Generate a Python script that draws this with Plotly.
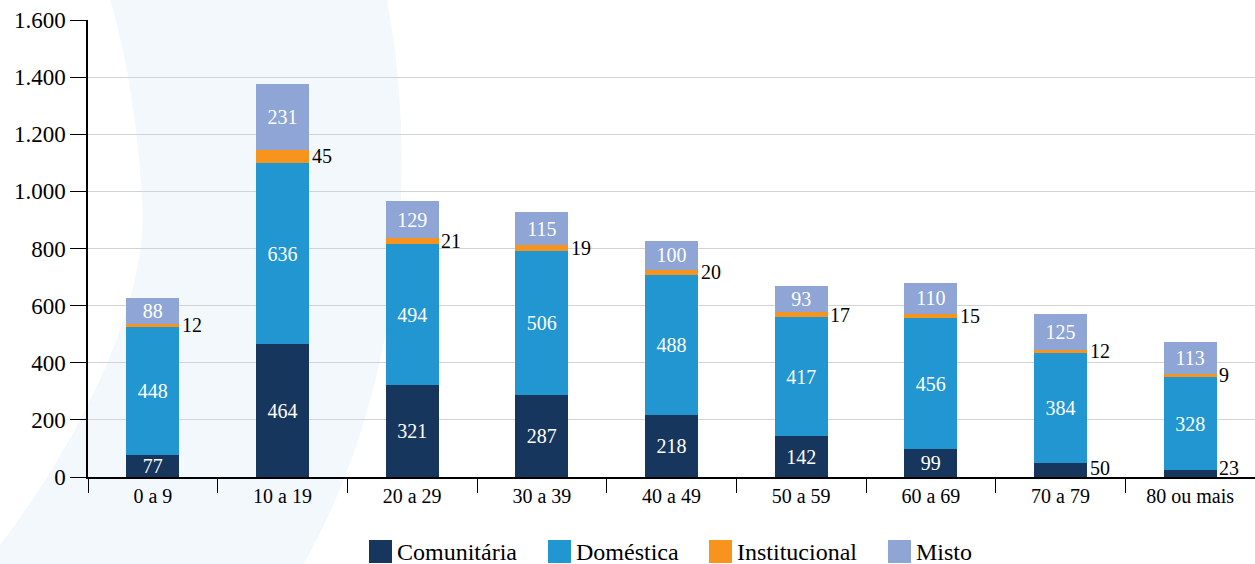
import plotly.graph_objects as go

categories = ["0 a 9", "10 a 19", "20 a 29", "30 a 39", "40 a 49", "50 a 59", "60 a 69", "70 a 79", "80 ou mais"]
comunitaria = [77, 464, 321, 287, 218, 142, 99, 50, 23]
domestica = [448, 636, 494, 506, 488, 417, 456, 384, 328]
institucional = [12, 45, 21, 19, 20, 17, 15, 12, 9]
misto = [88, 231, 129, 115, 100, 93, 110, 125, 113]
y_ticks = [0, 200, 400, 600, 800, 1000, 1200, 1400, 1600]

series_names = ["Comunitária", "Doméstica", "Institucional", "Misto"]
colors = ["#17365d", "#2196d0", "#f7941d", "#8ea5d6"]

FONT = "'Liberation Serif', 'Times New Roman', Tinos, 'DejaVu Serif', serif"
W, H = 1255, 564
L, R, T, B = 88, 0, 20, 87
PW, PH = W - L - R, H - T - B

def px(x):
    return (x - L) / PW

def py(y):
    return (H - B - y) / PH

fig = go.Figure()

def inside_text(vals, minv=60):
    return [str(v) if v >= minv else "" for v in vals]

for name, vals, col, show_inside in [
    (series_names[0], comunitaria, colors[0], True),
    (series_names[1], domestica, colors[1], True),
    (series_names[2], institucional, colors[2], False),
    (series_names[3], misto, colors[3], True),
]:
    fig.add_trace(go.Bar(
        x=categories, y=vals, name=name, marker=dict(color=col, line=dict(width=0)),
        text=inside_text(vals) if show_inside else None,
        textposition="inside" if show_inside else "none",
        insidetextanchor="middle", textangle=0, constraintext="none",
        textfont=dict(family=FONT, size=20, color="white"),
        width=0.41, showlegend=False, hoverinfo="skip",
    ))

annotations = []
for i, c in enumerate(categories):
    base = comunitaria[i] + domestica[i]
    annotations.append(dict(
        x=c, y=base + institucional[i] / 2, text=str(institucional[i]),
        xref="x", yref="y", xanchor="left", yanchor="middle", xshift=27,
        showarrow=False, font=dict(family=FONT, size=20, color="black"),
    ))
    if comunitaria[i] < 60:
        annotations.append(dict(
            x=c, y=0, text=str(comunitaria[i]),
            xref="x", yref="y", xanchor="left", yanchor="bottom", xshift=27, yshift=-4,
            showarrow=False, font=dict(family=FONT, size=20, color="black"),
        ))

shapes = []
pts = lambda x, y: f"{px(x):.4f},{py(y):.4f}"
path = ("M " + pts(110, 0) + " L " + pts(387, 0) +
        " C " + pts(420, 170) + " " + pts(400, 400) + " " + pts(300, 570) +
        " L " + pts(0, 570) + " L " + pts(0, 545) +
        " C " + pts(80, 440) + " " + pts(150, 300) + " " + pts(142, 200) +
        " C " + pts(138, 120) + " " + pts(125, 50) + " " + pts(110, 0) + " Z")
shapes.append(dict(type="path", path=path, xref="paper", yref="paper",
                   fillcolor="#f3f8fc", line=dict(width=0), layer="below"))

leg_x = [369, 548, 709, 888]
for i, name in enumerate(series_names):
    x0 = leg_x[i]
    shapes.append(dict(type="rect", xref="paper", yref="paper",
                       x0=px(x0), x1=px(x0 + 23), y0=py(563), y1=py(540),
                       fillcolor=colors[i], line=dict(width=0)))
    annotations.append(dict(x=px(x0 + 26), y=py(552), xref="paper", yref="paper",
                            text=name, showarrow=False, xanchor="left", yanchor="middle",
                            font=dict(family=FONT, size=24, color="black")))

fig.update_layout(
    width=W, height=H, barmode="stack", separators=",.",
    margin=dict(l=L, r=R, t=T, b=B, pad=0),
    paper_bgcolor="white", plot_bgcolor="rgba(0,0,0,0)",
    font=dict(family=FONT, size=20, color="black"),
    xaxis=dict(type="category", range=[-0.5, 8.5], tickson="boundaries",
               ticks="outside", ticklen=14, tickcolor="black", tickwidth=1,
               showline=True, linecolor="black", linewidth=1.5, showgrid=False,
               tickfont=dict(family=FONT, size=20, color="black")),
    yaxis=dict(range=[0, 1600], tickvals=y_ticks, tickformat=",d",
               ticks="outside", ticklen=16, tickcolor="black", tickwidth=1,
               showline=True, linecolor="black", linewidth=1.5,
               showgrid=True, gridcolor="#d3d3d3", gridwidth=1, zeroline=False,
               tickfont=dict(family=FONT, size=23, color="black")),
    shapes=shapes, annotations=annotations, showlegend=False,
)

fig.write_html("out.html", config={"displayModeBar": False},
               post_script="document.body.style.margin='0';document.body.style.overflow='hidden';")
